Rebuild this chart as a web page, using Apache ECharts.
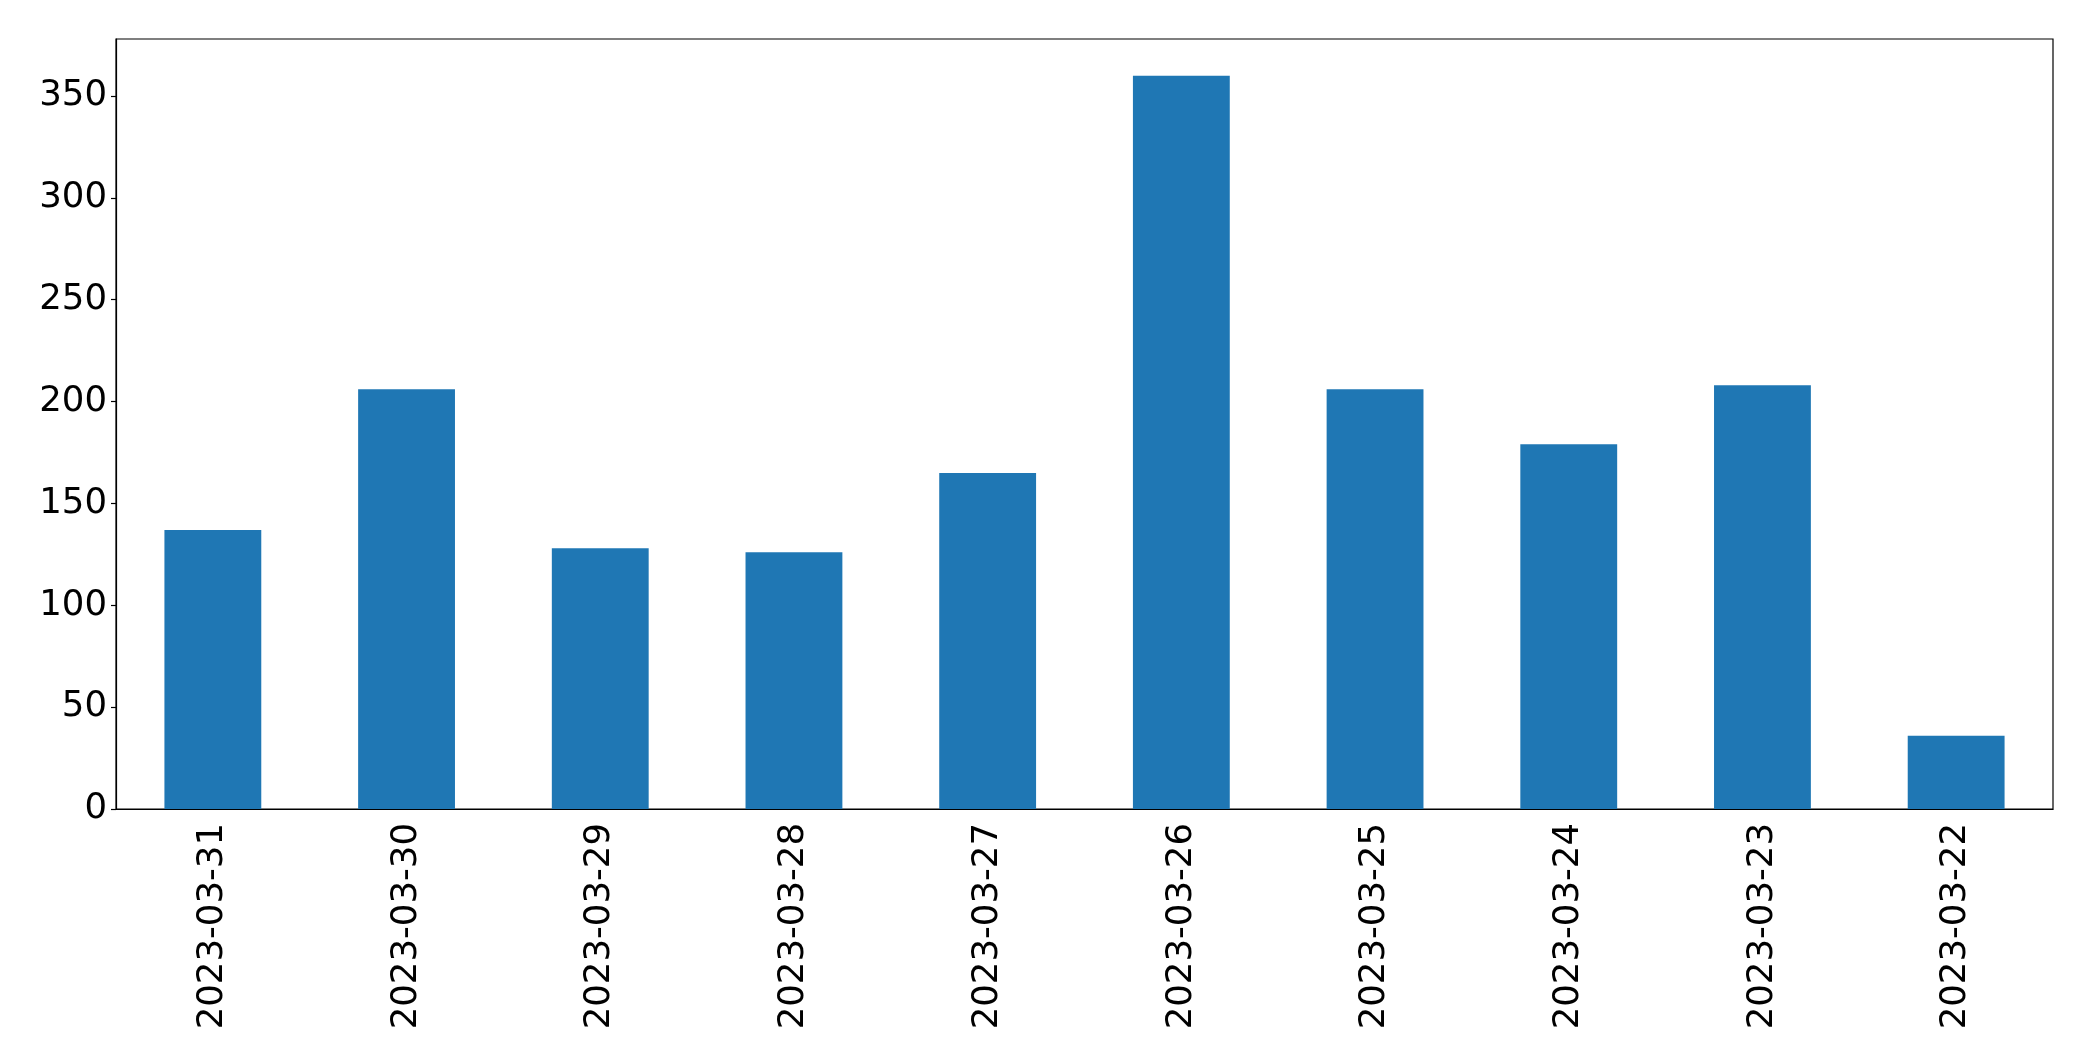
<!DOCTYPE html>
<html>
<head>
<meta charset="utf-8">
<script src="https://cdn.jsdelivr.net/npm/echarts@6/dist/echarts.min.js"></script>
<style>
  html, body { margin: 0; padding: 0; background: #fff; }
  #bar { width: 2093px; height: 1061px; }
</style>
</head>
<body>
<div id="bar"></div>
<script>
// 数据
const dates = ['2023-03-31', '2023-03-30', '2023-03-29', '2023-03-28', '2023-03-27',
  '2023-03-26', '2023-03-25', '2023-03-24', '2023-03-23', '2023-03-22']
const counts = [137, 206, 128, 126, 165, 360, 206, 179, 208, 36]
const yTicks = [0, 50, 100, 150, 200, 250, 300, 350]

// 柱状图
function barChart() {
  const myChart = echarts.init(document.querySelector('#bar'))
  const font = 'DejaVu Sans'
  const option = {
    animation: false,
    // 网格（四周黑框）
    grid: {
      left: 116,
      right: 40,
      top: 39,
      bottom: 252,
      show: true,
      borderColor: '#000',
      borderWidth: 1.2,
      backgroundColor: '#fff'
    },
    xAxis: {
      type: 'category',
      data: dates,
      axisLine: { lineStyle: { color: '#000', width: 1.2 } },
      axisTick: {
        alignWithLabel: true,
        length: 5,
        lineStyle: { color: '#000', width: 1.2 }
      },
      axisLabel: {
        rotate: 90,
        margin: 14,
        color: '#000',
        fontSize: 35.5,
        fontFamily: font,
        interval: 0
      }
    },
    yAxis: {
      type: 'value',
      min: 0,
      max: 378,
      interval: 50,
      splitLine: { show: false },
      axisLine: { show: true, lineStyle: { color: '#000', width: 1.2 } },
      axisTick: {
        show: true,
        length: 5,
        customValues: yTicks,
        lineStyle: { color: '#000', width: 1.2 }
      },
      axisLabel: {
        margin: 9,
        color: '#000',
        fontSize: 35.5,
        fontFamily: font,
        customValues: yTicks
      }
    },
    series: [
      {
        type: 'bar',
        data: counts,
        barWidth: '50%',
        itemStyle: { color: '#1f77b4' }
      }
    ]
  }
  myChart.setOption(option)
}
barChart()
</script>
</body>
</html>
